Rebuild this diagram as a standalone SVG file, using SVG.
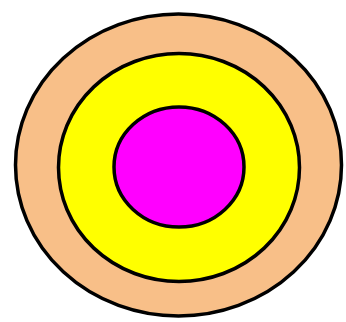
<svg xmlns="http://www.w3.org/2000/svg" width="346" height="322" viewBox="0 0 346 322">
<style>.ring{stroke:#000;stroke-width:3.5}</style>
<rect width="346" height="322" fill="#fff"/>
<g id="outer"><ellipse class="ring" cx="178.5" cy="165" rx="163" ry="151" fill="#F8BF88"/></g>
<g id="middle"><ellipse class="ring" cx="179" cy="167.5" rx="120.5" ry="114" fill="#FFFF00"/></g>
<g id="inner"><ellipse class="ring" cx="179" cy="167" rx="65" ry="60" fill="#FF00FF"/></g>
<g id="connectors"/>
</svg>
